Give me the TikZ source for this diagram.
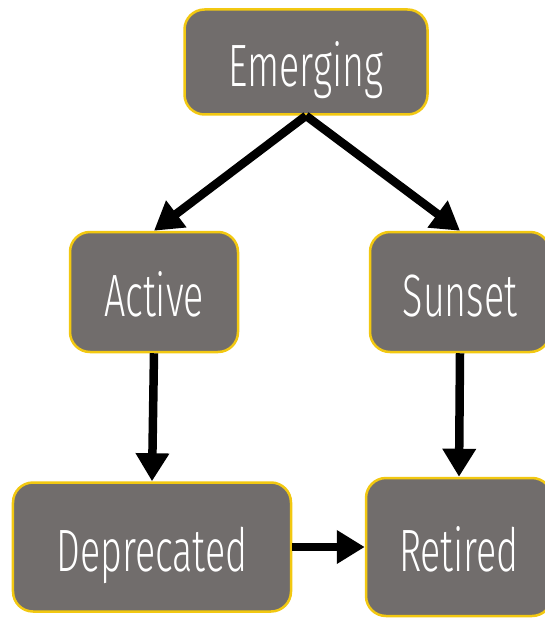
\documentclass[tikz,border=0pt]{standalone}
\usepackage{fontspec}
\setmainfont[FakeStretch=0.63]{Fira Sans Light}
\usetikzlibrary{positioning,shapes,arrows.meta}

\definecolor{boxgray}{HTML}{716D6C}
\definecolor{boxgold}{HTML}{F2C811}

\tikzset{
  phase/.style={rectangle, rounded corners=20bp, draw=boxgold, line width=2.5bp,
    fill=boxgray, text=white, font=\fontsize{60}{66}\selectfont,
    text height=49bp, text depth=0bp},
  flow/.style={line width=8.5bp, -{Triangle[length=28bp,width=32bp]}}
}

\begin{document}
\begin{tikzpicture}[x=1bp, y=-1bp]
      \useasboundingbox (0,0) rectangle (545,620);
      %\draw[help lines] (0,0) grid (545,620);

      \node [phase, minimum width=243bp, minimum height=105bp] (emerging) at (306, 62) {Emerging};
      \node [phase, minimum width=168bp, minimum height=120bp] (active) at (154, 292) {Active};
      \node [phase, minimum width=180bp, minimum height=120bp] (sunset) at (460, 292) {Sunset};
      \node [phase, minimum width=278bp, minimum height=129bp] (deprecated) at (152, 547) {Deprecated};
      \node [phase, minimum width=186bp, minimum height=138bp] (retired) at (459, 547) {Retired};

      \draw[flow] (emerging.south) -- (active.north);
      \draw[flow] (emerging.south) -- (sunset.north);
      \draw[flow] (active.south) -- (deprecated.north);
      \draw[flow] (sunset.south) -- (retired.north);
      \draw[flow] (deprecated.east) -- (retired.west);

\end{tikzpicture}
\end{document}
